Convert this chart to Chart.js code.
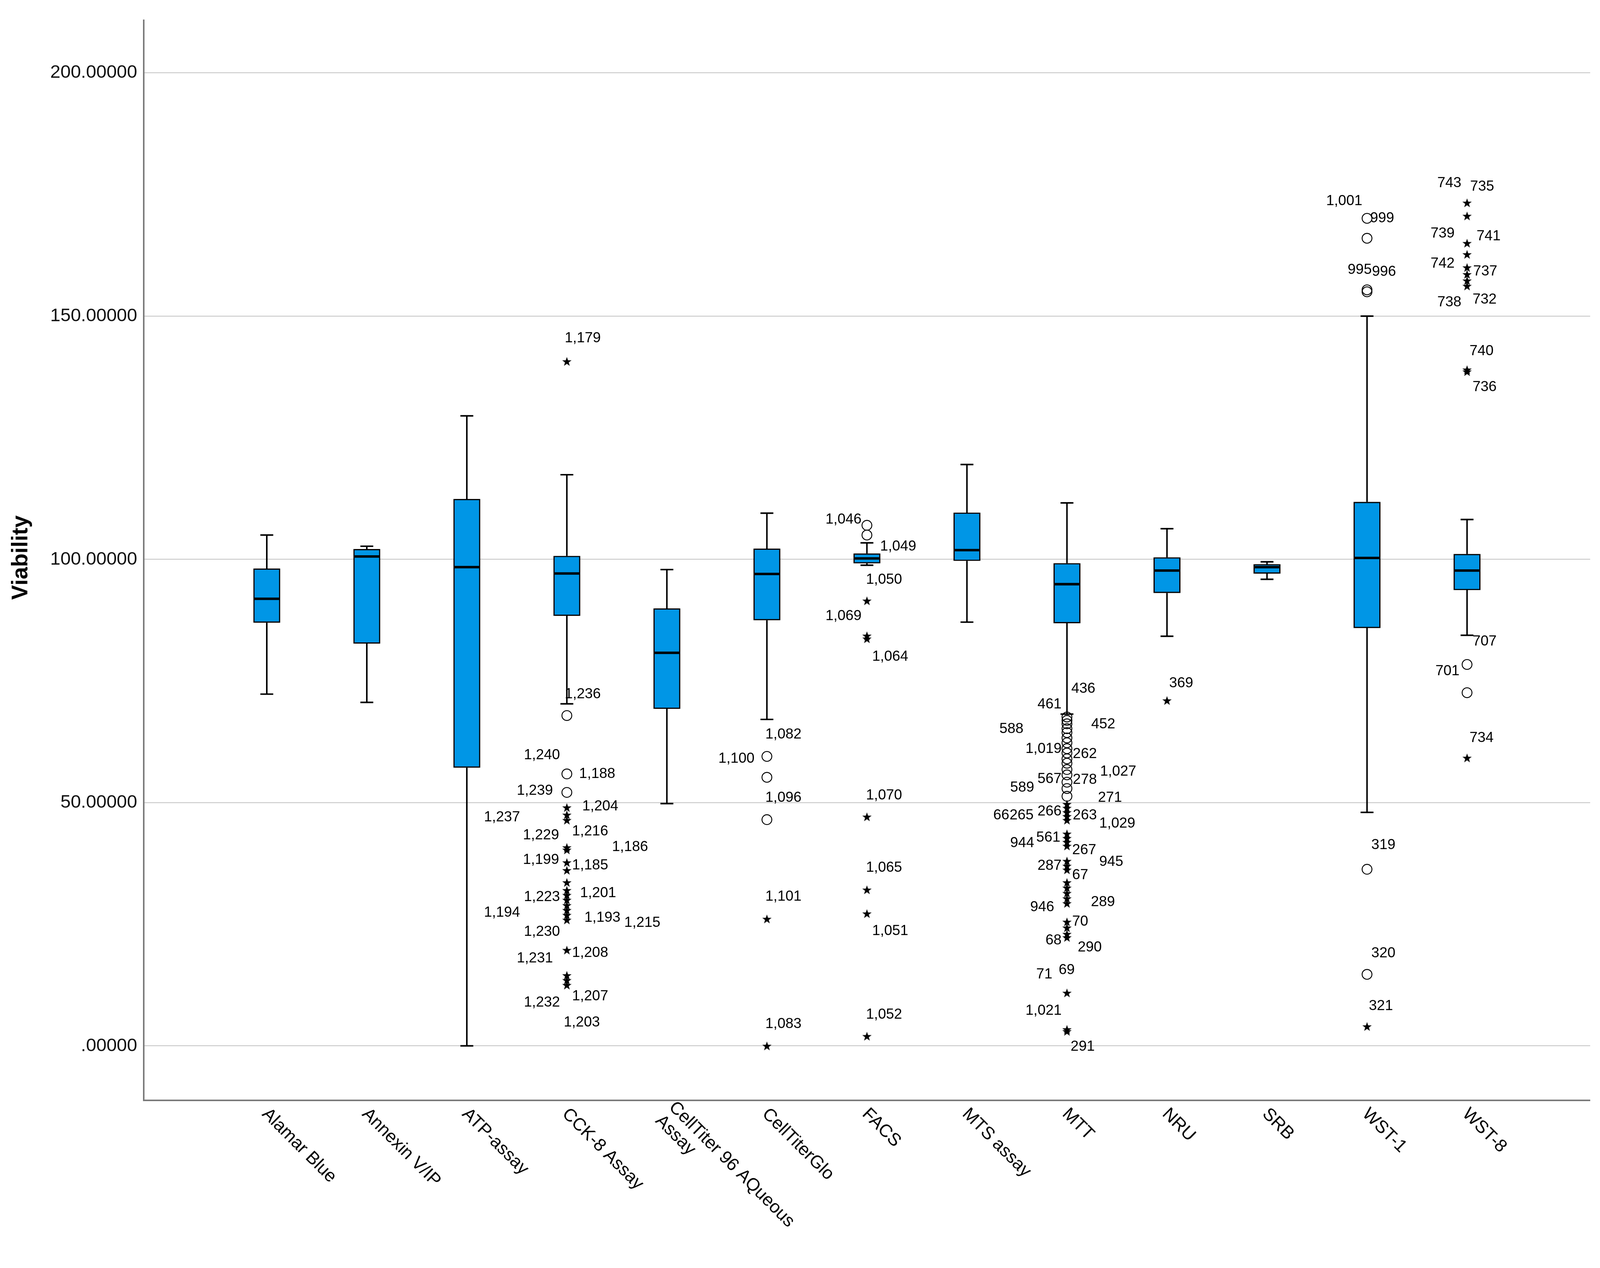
<!DOCTYPE html>
<html lang="en">
<head>
<meta charset="UTF-8" />
<title>Viability by assay</title>
<script src="https://cdn.jsdelivr.net/npm/chart.js@4"></script>
<style>
  html, body { margin: 0; padding: 0; background: #fff; overflow: hidden; }
  #wrap { position: relative; width: 100vw; height: 100vh; }
</style>
</head>
<body>
<div id="wrap"><canvas id="chart"></canvas></div>
<script>
const categories = [
  "Alamar Blue", "Annexin V/IP", "ATP-assay", "CCK-8 Assay",
  ["CellTiter 96 AQueous", "Assay"], "CellTiterGlo", "FACS", "MTS assay",
  "MTT", "NRU", "SRB", "WST-1", "WST-8"
];

const whiskerLow  = [72.3, 70.6,   0.0,  70.3, 49.8,  67.1,  98.8,  87.1,  68.2,  84.2, 95.9,  48.0,  84.4];
const q1          = [87.0, 82.7,  57.2,  88.4, 69.3,  87.5,  99.2,  99.7,  86.9,  93.1, 97.1,  85.9,  93.7];
const median      = [91.9, 100.6, 98.4,  97.1, 80.8,  97.0, 100.2, 101.9,  94.9,  97.7, 98.4, 100.3,  97.7];
const q3          = [98.1, 102.1, 112.4, 100.7, 89.9, 102.2, 101.2, 109.6,  99.2, 100.4, 99.0, 111.8, 101.1];
const whiskerHigh = [105.0, 102.7, 129.5, 117.4, 97.9, 109.5, 103.4, 119.5, 111.6, 106.3, 99.5, 150.0, 108.2];

// outliers (circles) and extremes (stars), one list per category
const circleOutliers = [
  [], [], [],
  [67.9, 55.9, 52.1],
  [],
  [59.5, 55.2, 46.5],
  [107.0, 105.0],
  [],
  [67.6, 66.9, 66.2, 65.2, 64.4, 63.3, 62.3, 61.1, 60.2, 59.0, 58.1, 56.8, 55.7, 54.2, 52.9, 51.3],
  [], [],
  [170.1, 166.0, 155.4, 155.0, 36.3, 14.7],
  [78.4, 72.6]
];
const starOutliers = [
  [], [], [],
  [140.7, 49.0, 47.5, 46.4, 40.8, 40.3, 37.7, 36.1, 33.6, 32.0, 31.0, 30.0, 28.9, 27.9, 26.9, 25.9, 19.7, 14.5, 13.5, 12.5],
  [],
  [26.1, 0.0],
  [91.5, 84.3, 83.7, 47.1, 32.1, 27.2, 2.0],
  [],
  [49.7, 48.9, 48.0, 47.2, 46.4, 43.6, 42.7, 41.9, 41.1, 38.0, 37.0, 36.2, 33.6, 32.5, 31.4, 30.3, 29.3, 25.5, 24.3, 23.0, 22.3, 10.9, 3.4, 3.0],
  [71.0],
  [],
  [4.0],
  [173.3, 170.6, 165.0, 162.7, 160.0, 158.6, 157.3, 156.2, 139.0, 138.6, 59.2]
];

// case numbers: [category, text, value where the label sits]
const caseLabels = [
  [3, "1,179", 145.4], [3, "1,236", 72.3], [3, "1,240", 59.7], [3, "1,188", 55.9],
  [3, "1,239", 52.4], [3, "1,204", 49.2], [3, "1,237", 47.0], [3, "1,229", 43.3],
  [3, "1,216", 44.1], [3, "1,186", 40.9], [3, "1,199", 38.2], [3, "1,185", 37.1],
  [3, "1,223", 30.6], [3, "1,201", 31.4], [3, "1,194", 27.4], [3, "1,193", 26.3],
  [3, "1,215", 25.3], [3, "1,230", 23.4], [3, "1,208", 19.1], [3, "1,231", 18.0],
  [3, "1,207", 10.2], [3, "1,232", 8.9], [3, "1,203", 4.8],
  [5, "1,082", 64.0], [5, "1,100", 59.0], [5, "1,096", 51.0], [5, "1,101", 30.7], [5, "1,083", 4.5],
  [6, "1,046", 108.2], [6, "1,049", 102.6], [6, "1,050", 95.8], [6, "1,069", 88.3],
  [6, "1,064", 80.0], [6, "1,070", 51.5], [6, "1,065", 36.6], [6, "1,051", 23.6], [6, "1,052", 6.4],
  [8, "436", 73.4], [8, "461", 70.2], [8, "588", 65.1], [8, "452", 66.1], [8, "1,019", 61.0],
  [8, "262", 60.0], [8, "1,027", 56.4], [8, "589", 53.1], [8, "567", 54.8], [8, "278", 54.7],
  [8, "271", 51.0], [8, "66", 47.4], [8, "265", 47.4], [8, "266", 48.2], [8, "263", 47.4],
  [8, "1,029", 45.7], [8, "944", 41.7], [8, "561", 42.8], [8, "267", 40.2], [8, "945", 37.8],
  [8, "287", 37.0], [8, "67", 35.1], [8, "946", 28.5], [8, "289", 29.5], [8, "70", 25.5],
  [8, "68", 21.7], [8, "290", 20.2], [8, "71", 14.7], [8, "69", 15.6], [8, "1,021", 7.2], [8, "291", -0.2],
  [9, "369", 74.5],
  [11, "1,001", 173.6], [11, "999", 170.1], [11, "995", 159.5], [11, "996", 159.1],
  [11, "319", 41.3], [11, "320", 19.0], [11, "321", 8.2],
  [12, "743", 177.3], [12, "735", 176.6], [12, "739", 167.0], [12, "741", 166.4],
  [12, "742", 160.8], [12, "737", 159.2], [12, "738", 152.8], [12, "732", 153.4],
  [12, "740", 142.8], [12, "736", 135.4], [12, "707", 83.1], [12, "701", 77.0], [12, "734", 63.3]
];
// horizontal offset of each case label from its box centre (reference px), same order as caseLabels
const caseLabelDx = [
  -7, -7, -140, 40, -163, 50, -270, -143, 17, 147, -143, 17, -140, 43, -270, 57, 187, -140, 17, -163, 17, -140, -10,
  -5, -158, -5, -5, -5,
  -135, 43, -3, -135, 17, -3, -3, 17, -3,
  14, -96, -220, 79, -135, 19, 108, -185, -96, 19, 101, -240, -187, -96, 19, 105, -185, -100, 17, 105,
  -96, 17, -120, 78, 17, -70, 35, -100, -27, -135, 12,
  7,
  -133, 10, -63, 16, 14, 14, 6,
  -97, 10, -119, 31, -119, 20, -97, 18, 8, 18, 18, -103, 8
];

const yTickValues = [0, 50, 100, 150, 200];
const yTickLabels = [".00000", "50.00000", "100.00000", "150.00000", "200.00000"];

const FONT = "'Liberation Sans', Arial, sans-serif";

// everything below is laid out on a 5212 x 3245 frame and scaled to the real window
const wrap = document.getElementById("wrap");
const sx = wrap.clientWidth / 5212;
const sy = wrap.clientHeight / 3245;
const sf = Math.min(sx, sy);

function makeStar(r) {
  const c = document.createElement("canvas");
  const s = Math.ceil(r * 2 + 4);
  c.width = c.height = s;
  const g = c.getContext("2d");
  g.translate(s / 2, s / 2 + r * 0.1);
  g.beginPath();
  for (let k = 0; k < 10; k++) {
    const rad = k % 2 ? r * 0.4 : r;
    const a = -Math.PI / 2 + (k * Math.PI) / 5;
    g.lineTo(rad * Math.cos(a), rad * Math.sin(a));
  }
  g.closePath();
  g.fillStyle = "#000";
  g.fill();
  return c;
}

function toPoints(lists) {
  return lists.flatMap((vals, i) => vals.map((v) => ({ x: i, y: v })));
}

function seg(ctx, x1, y1, x2, y2) {
  ctx.beginPath();
  ctx.moveTo(x1, y1);
  ctx.lineTo(x2, y2);
  ctx.stroke();
}

const boxParts = {
  id: "boxParts",
  beforeDatasetsDraw(chart) {
    const { ctx, scales: { x, y } } = chart;
    ctx.save();
    ctx.strokeStyle = "#000";
    ctx.lineWidth = 5 * sf;
    const cap = 21 * sx;
    categories.forEach((c, i) => {
      const cx = x.getPixelForValue(i);
      const yh = y.getPixelForValue(whiskerHigh[i]);
      const yl = y.getPixelForValue(whiskerLow[i]);
      seg(ctx, cx, y.getPixelForValue(q3[i]), cx, yh);
      seg(ctx, cx, y.getPixelForValue(q1[i]), cx, yl);
      seg(ctx, cx - cap, yh, cx + cap, yh);
      seg(ctx, cx - cap, yl, cx + cap, yl);
    });
    ctx.restore();
  },
  afterDatasetsDraw(chart) {
    const { ctx, scales: { x, y } } = chart;
    ctx.save();
    ctx.strokeStyle = "#000";
    ctx.lineWidth = 8 * sf;
    categories.forEach((c, i) => {
      const cx = x.getPixelForValue(i);
      const ym = y.getPixelForValue(median[i]);
      seg(ctx, cx - 43 * sx, ym, cx + 43 * sx, ym);
    });

    ctx.fillStyle = "#000";
    ctx.font = 47 * sf + "px " + FONT;
    ctx.textAlign = "left";
    ctx.textBaseline = "middle";
    caseLabels.forEach(([cat, text, v], k) => {
      ctx.fillText(text, x.getPixelForValue(cat) + caseLabelDx[k] * sx, y.getPixelForValue(v));
    });
    ctx.restore();
  },
  afterDraw(chart) {
    const { ctx, chartArea, scales: { x } } = chart;
    ctx.save();
    ctx.fillStyle = "#000";
    ctx.font = 58 * sf + "px " + FONT;
    ctx.textAlign = "left";
    ctx.textBaseline = "top";
    const lh = 62 * sf;
    categories.forEach((c, i) => {
      const lines = Array.isArray(c) ? c : [c];
      const start = (-(lines.length - 1) * lh) / 2;
      ctx.save();
      ctx.translate(x.getPixelForValue(i) + 14 * sx, chartArea.bottom + 12 * sy);
      ctx.rotate(Math.PI / 4);
      lines.forEach((t, k) => ctx.fillText(t, 0, start + k * lh));
      ctx.restore();
    });

    ctx.font = "bold " + 72 * sf + "px " + FONT;
    ctx.textAlign = "center";
    ctx.textBaseline = "middle";
    ctx.translate(69 * sx, (chartArea.top + chartArea.bottom) / 2 - 7 * sy);
    ctx.rotate(-Math.PI / 2);
    ctx.fillText("Viability", 0, 0);
    ctx.restore();
  }
};

const star = makeStar(16 * sf);

new Chart(document.getElementById("chart"), {
  type: "bar",
  data: {
    datasets: [
      {
        type: "bar",
        data: categories.map((c, i) => ({ x: i, y: [q1[i], q3[i]] })),
        backgroundColor: "#0096e6",
        borderColor: "#000",
        borderWidth: 4 * sf,
        borderSkipped: false,
        barThickness: 87 * sx,
        grouped: false
      },
      {
        type: "scatter",
        data: toPoints(circleOutliers),
        pointStyle: "circle",
        pointRadius: 16 * sf,
        pointBorderWidth: 3 * sf,
        pointBorderColor: "#000",
        pointBackgroundColor: "rgba(0,0,0,0)"
      },
      {
        type: "scatter",
        data: toPoints(starOutliers),
        pointStyle: star,
        pointRadius: 16 * sf
      }
    ]
  },
  options: {
    responsive: true,
    maintainAspectRatio: false,
    animation: false,
    layout: { padding: { top: 52 * sy, right: 32 * sx, bottom: 429 * sy, left: 0 } },
    plugins: { legend: { display: false }, tooltip: { enabled: false } },
    scales: {
      x: {
        type: "linear",
        min: -1.231,
        max: 13.231,
        offset: false,
        grid: { display: false },
        ticks: { display: false },
        border: { display: true, color: "#7a7a7a", width: 5 * sf },
        afterFit: (scale) => { scale.height = 0; }
      },
      y: {
        min: -11.2,
        max: 210.8,
        afterBuildTicks: (scale) => { scale.ticks = yTickValues.map((v) => ({ value: v })); },
        afterFit: (scale) => { scale.width = 468 * sx; },
        ticks: {
          padding: 21 * sx,
          color: "#111",
          font: { family: FONT, size: 60 * sf },
          callback: (v) => yTickLabels[yTickValues.indexOf(v)]
        },
        grid: { color: "#c8c8c8", lineWidth: 3 * sf, drawTicks: false },
        border: { display: true, color: "#7a7a7a", width: 5 * sf }
      }
    }
  },
  plugins: [boxParts]
});
</script>
</body>
</html>
